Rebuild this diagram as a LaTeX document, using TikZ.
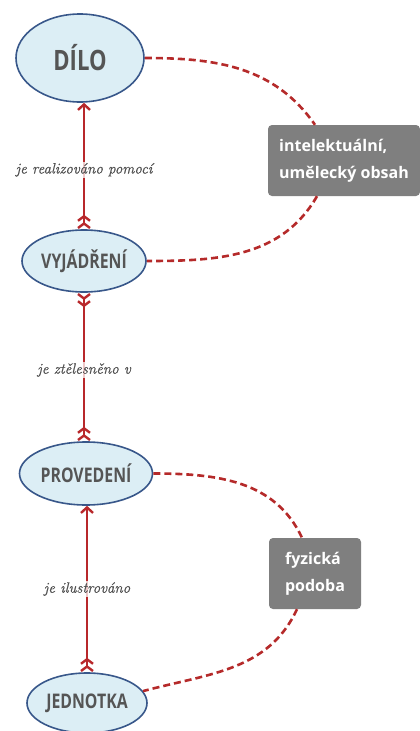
\documentclass[tikz,border=0pt]{standalone}
\usepackage{fontspec}
\newfontfamily\opensans{Open Sans}
\newfontfamily\relfont{Latin Modern Roman}[ItalicFeatures={FakeBold=0.7}]
\usetikzlibrary{arrows.meta,shapes.geometric}

\definecolor{relred}{HTML}{B8282B}
\definecolor{linkred}{HTML}{B52A2A}
\definecolor{conceptfill}{HTML}{DCEEF5}
\definecolor{conceptdraw}{HTML}{38578A}
\definecolor{concepttext}{HTML}{555555}
\definecolor{boxgray}{HTML}{7F7F7F}
\definecolor{labeltext}{HTML}{505050}

% concept names are set slightly taller than the plain face
\newcommand\tallname[1]{\scalebox{0.96}[1.22]{#1}}

\tikzset{
  headtip/.tip={Straight Barb[length=5.5pt,width=12pt]},
  tailtip/.tip={Straight Barb[reversed,length=4.5pt,width=12pt] Straight Barb[reversed,length=4.5pt,width=12pt]},
  concept/.style={ellipse, draw=conceptdraw, line width=1.6pt, fill=conceptfill,
    inner sep=0pt, text=concepttext, font=\opensans\bfseries\fontsize{16.5}{18}\selectfont},
  attribute/.style={rectangle, rounded corners=4pt, fill=boxgray, text=white,
    align=left, inner sep=0pt, minimum height=71pt,
    font=\opensans\bfseries\fontsize{16}{27}\selectfont},
  rel/.style={draw=relred, line width=2.4pt},
  link/.style={draw=linkred, line width=2.6pt, dash pattern=on 7pt off 4pt},
  rellabel/.style={fill=white, fill opacity=0.75, text opacity=1, inner sep=1pt,
    text=labeltext, font=\relfont\itshape\fontsize{15}{17}\selectfont},
}

\begin{document}
\begin{tikzpicture}[x=1pt, y=-1pt]
  \useasboundingbox (0,0) rectangle (420,731);

  % concepts
  \node[concept, minimum width=128pt, minimum height=88pt,
        font=\opensans\bfseries\fontsize{23}{26}\selectfont] (dilo) at (80,58) {\tallname{DÍLO}};
  \node[concept, minimum width=124pt, minimum height=62pt] (vyj) at (84,261) {\tallname{VYJÁDŘENÍ}};
  \node[concept, minimum width=133pt, minimum height=63pt] (prov) at (86,473.5) {\tallname{PROVEDENÍ}};
  \node[concept, minimum width=120pt, minimum height=60pt] (jedn) at (87,703) {\tallname{JEDNOTKA}};

  % attributes
  \node[attribute, minimum width=152pt] (obsah) at (344,160.5)
    {intelektuální,\\umělecký obsah};
  \node[attribute, minimum width=92pt] (podoba) at (315,573.5)
    {fyzická\\podoba};

  % relations
  \draw[rel, arrows={tailtip-headtip}] (vyj.north) -- (vyj.north |- dilo.south)
    node[rellabel, pos=0.47] {je realizováno pomocí};
  \draw[rel, arrows={tailtip-tailtip}] (vyj.south) -- (vyj.south |- prov.north)
    node[rellabel, pos=0.52] {je ztělesněno v};
  \draw[rel, arrows={tailtip-headtip}] (jedn.north) -- (jedn.north |- prov.south)
    node[rellabel, pos=0.5] {je ilustrováno};

  % attribute links
  \draw[link] (dilo.east) to[out=0, in=125] ([xshift=-29pt]obsah.north);
  \draw[link] ([xshift=-27pt]obsah.south) to[out=-120, in=0] (vyj.east);
  \draw[link] (prov.east) to[out=0, in=115] ([xshift=-13pt]podoba.north);
  \draw[link] ([xshift=-18pt]podoba.south) to[out=-115, in=15] (jedn.12);
\end{tikzpicture}
\end{document}
